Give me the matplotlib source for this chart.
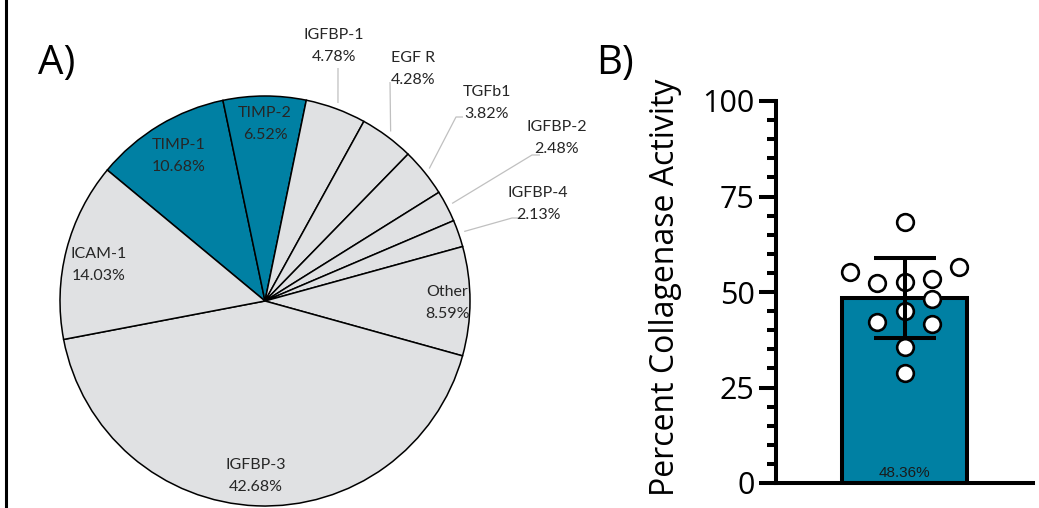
"""Cytokine composition pie (A) and collagenase activity bar (B)."""

import matplotlib
matplotlib.use("Agg")
import matplotlib.pyplot as plt
import numpy as np
from matplotlib.lines import Line2D

W, H = 1039, 508

# ---- data -------------------------------------------------------------
PIE_NAMES = ["TIMP-1", "TIMP-2", "IGFBP-1", "EGF R", "TGFb1",
             "IGFBP-2", "IGFBP-4", "Other", "IGFBP-3", "ICAM-1"]
PIE_PCT = [10.68, 6.52, 4.78, 4.28, 3.82, 2.48, 2.13, 8.59, 42.68, 14.03]
HIGHLIGHT = ["TIMP-1", "TIMP-2"]

ACTIVITY_MEAN = 48.36
ACTIVITY_POINTS = [68.2, 55.3, 56.6, 52.3, 52.7, 53.4,
                   48.2, 44.9, 42.2, 41.6, 35.7, 28.7]

# ---- layout (pixels from top-left) -------------------------------------
TEAL = "#0080a3"
GRAY = "#e0e1e3"
LABEL_GRAY = "#262626"
PIE_CENTER = (265, 301)
PIE_RADIUS = 205

# centre of the two-line label block for each slice
LABEL_POS = {
    "TIMP-1": (179, 156), "TIMP-2": (265, 124), "IGFBP-1": (334, 46),
    "EGF R": (413, 69), "TGFb1": (487, 103), "IGFBP-2": (557, 138),
    "IGFBP-4": (538, 204), "Other": (447, 303), "IGFBP-3": (256, 476),
    "ICAM-1": (99, 265),
}
# where each leader line leaves its label
LEADER_START = {
    "IGFBP-1": [(338, 68)],
    "EGF R": [(390, 82)],
    "TGFb1": [(463, 117), (456, 117)],
    "IGFBP-2": [(540, 155), (532, 155)],
    "IGFBP-4": [(518, 218), (512, 218)],
}
SWARM_SLOT = [0, -2, 2, -1, 0, 1, 1, 0, -1, 1, 0, 0]


def py(y):
    return H - y


fig = plt.figure(figsize=(W / 100, H / 100), dpi=100)

# ---- A) pie -------------------------------------------------------------
ax = fig.add_axes([0, 0, 1, 1])
colors = [TEAL if n in HIGHLIGHT else GRAY for n in PIE_NAMES]
wedges, _ = ax.pie(PIE_PCT, colors=colors, startangle=140.3, counterclock=False,
                   center=(PIE_CENTER[0], py(PIE_CENTER[1])), radius=PIE_RADIUS,
                   wedgeprops=dict(edgecolor="black", linewidth=1.1))
ax.set_xlim(0, W)
ax.set_ylim(0, H)
ax.set_aspect("equal")
ax.axis("off")

for name, pct in zip(PIE_NAMES, PIE_PCT):
    x, y = LABEL_POS[name]
    for txt, dy in ((name, -11), (f"{pct:.2f}%", 11)):
        ax.text(x, py(y + dy), txt, ha="center", va="center",
                family="Lato", fontsize=11.5, color=LABEL_GRAY)

for w, name in zip(wedges, PIE_NAMES):
    if name not in LEADER_START:
        continue
    mid = np.deg2rad((w.theta1 + w.theta2) / 2)
    end = (PIE_CENTER[0] + 211 * np.cos(mid), py(PIE_CENTER[1]) + 211 * np.sin(mid))
    pts = [(x, py(y)) for x, y in LEADER_START[name]] + [end]
    xs, ys = zip(*pts)
    ax.plot(xs, ys, color="#c0c0c0", lw=0.9, solid_capstyle="butt")

ax.text(57, py(64), "A)", ha="center", va="center", family="Open Sans", fontsize=29)
ax.text(615, py(64), "B)", ha="center", va="center", family="Open Sans", fontsize=29)
ax.text(665, py(287), "Percent Collagenase Activity", rotation=90,
        ha="center", va="center", family="Open Sans", fontsize=23)

fig.add_artist(Line2D([5.5 / W, 5.5 / W], [0, 1], color="black", lw=2.2))

# ---- B) bar ------------------------------------------------------------
bx = fig.add_axes([776 / W, 25 / H, 257 / W, 382 / H])
bx.patch.set_alpha(0)
bx.bar(0, ACTIVITY_MEAN, width=0.4825, color=TEAL, edgecolor="black",
       linewidth=2.9, zorder=2)
pts = np.array(ACTIVITY_POINTS)
sd = pts.std(ddof=1)
bx.errorbar(0, ACTIVITY_MEAN, yerr=sd, color="black", lw=2.9, capsize=22.3,
            capthick=2.9, zorder=4)
bx.plot(np.array(SWARM_SLOT) * 0.1063, pts, "o", ms=12, mfc="white",
        mec="black", mew=1.9, zorder=3, clip_on=False)
bx.text(0, 2.6, f"{ACTIVITY_MEAN:.2f}%", ha="center", va="center",
        family="Liberation Sans", fontsize=11, color="#1a1a1a", zorder=5)

bx.set_xlim(-0.5, 0.5)
bx.set_ylim(0, 100)
bx.set_yticks([0, 25, 50, 75, 100])
bx.set_yticks(np.arange(0, 101, 5), minor=True)
bx.set_xticks([])
for s in ("top", "right"):
    bx.spines[s].set_visible(False)
for s in ("left", "bottom"):
    bx.spines[s].set_linewidth(2.9)
bx.tick_params(axis="y", which="major", length=12, width=2.9, pad=3.5,
               labelsize=22)
bx.tick_params(axis="y", which="minor", length=6.5, width=2.9)
for lab in bx.get_yticklabels():
    lab.set_family("Open Sans")

fig.savefig("out.png", dpi=100)
